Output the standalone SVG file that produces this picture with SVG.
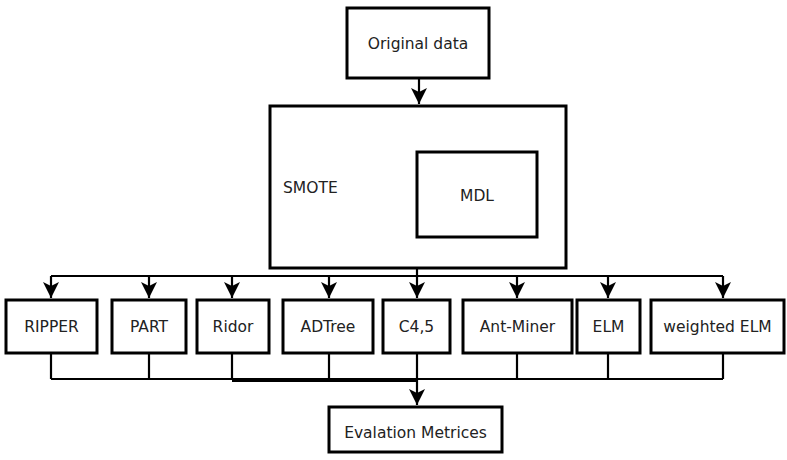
<svg xmlns="http://www.w3.org/2000/svg" width="787" height="460" viewBox="0 0 787 460">
  <style>
    .box { fill: #ffffff; stroke: #000000; stroke-width: 3; }
    .wire { fill: none; stroke: #000000; stroke-width: 2.2; }
    .thick { fill: none; stroke: #000000; stroke-width: 4; }
    .lbl { font-family: "DejaVu Sans", Verdana, sans-serif; font-size: 15.5px; fill: #222222; text-anchor: middle; }
  </style>
  <defs>
    <marker id="arrow" viewBox="0 0 16 16" refX="16" refY="8" markerWidth="16" markerHeight="16" markerUnits="userSpaceOnUse" orient="auto">
      <path d="M0,0 L4,8 L0,16 L16,8 Z" fill="#000000"/>
    </marker>
  </defs>
  <rect width="787" height="460" fill="#ffffff"/>

  <g id="connectors">
    <!-- input to SMOTE -->
    <line class="wire" x1="419" y1="78" x2="419" y2="104" marker-end="url(#arrow)"/>
    <!-- SMOTE to distribution bus -->
    <line class="wire" x1="417" y1="268" x2="417" y2="276"/>
    <line class="wire" x1="51" y1="276" x2="723" y2="276"/>
    <line class="wire" x1="51" y1="276" x2="51" y2="298" marker-end="url(#arrow)"/>
    <line class="wire" x1="149" y1="276" x2="149" y2="298" marker-end="url(#arrow)"/>
    <line class="wire" x1="232" y1="276" x2="232" y2="298" marker-end="url(#arrow)"/>
    <line class="wire" x1="329" y1="276" x2="329" y2="298" marker-end="url(#arrow)"/>
    <line class="wire" x1="417" y1="276" x2="417" y2="298" marker-end="url(#arrow)"/>
    <line class="wire" x1="517" y1="276" x2="517" y2="298" marker-end="url(#arrow)"/>
    <line class="wire" x1="608" y1="276" x2="608" y2="298" marker-end="url(#arrow)"/>
    <line class="wire" x1="723" y1="276" x2="723" y2="298" marker-end="url(#arrow)"/>
    <!-- classifiers to collection bus -->
    <line class="wire" x1="51" y1="353" x2="51" y2="379"/>
    <line class="wire" x1="149" y1="353" x2="149" y2="379"/>
    <line class="wire" x1="232" y1="353" x2="232" y2="379"/>
    <line class="wire" x1="329" y1="353" x2="329" y2="379"/>
    <line class="wire" x1="417" y1="353" x2="417" y2="379"/>
    <line class="wire" x1="517" y1="353" x2="517" y2="379"/>
    <line class="wire" x1="608" y1="353" x2="608" y2="379"/>
    <line class="wire" x1="723" y1="353" x2="723" y2="379"/>
    <line class="wire" x1="51" y1="379" x2="723" y2="379"/>
    <line class="thick" x1="232" y1="380" x2="417" y2="380"/>
    <!-- collection bus to evaluation -->
    <line class="wire" x1="417" y1="379" x2="417" y2="405" marker-end="url(#arrow)"/>
  </g>

  <g id="original-data">
    <rect class="box" x="347" y="8" width="142" height="70"/>
    <text class="lbl" x="418" y="49">Original data</text>
  </g>

  <g id="smote">
    <rect class="box" x="270" y="106" width="296" height="162"/>
    <text class="lbl" x="283" y="193" style="text-anchor: start">SMOTE</text>
  </g>

  <g id="mdl">
    <rect class="box" x="417" y="152" width="120" height="85"/>
    <text class="lbl" x="477" y="201">MDL</text>
  </g>

  <g id="ripper">
    <rect class="box" x="6" y="300" width="91" height="53"/>
    <text class="lbl" x="51.5" y="332">RIPPER</text>
  </g>

  <g id="part">
    <rect class="box" x="112" y="300" width="74" height="53"/>
    <text class="lbl" x="149" y="332">PART</text>
  </g>

  <g id="ridor">
    <rect class="box" x="197" y="300" width="72" height="53"/>
    <text class="lbl" x="233" y="332">Ridor</text>
  </g>

  <g id="adtree">
    <rect class="box" x="283" y="300" width="90" height="53"/>
    <text class="lbl" x="328" y="332">ADTree</text>
  </g>

  <g id="c45">
    <rect class="box" x="383" y="300" width="67" height="53"/>
    <text class="lbl" x="416.5" y="332">C4,5</text>
  </g>

  <g id="ant-miner">
    <rect class="box" x="463" y="300" width="109" height="53"/>
    <text class="lbl" x="517.5" y="332">Ant-Miner</text>
  </g>

  <g id="elm">
    <rect class="box" x="577" y="300" width="63" height="53"/>
    <text class="lbl" x="608.5" y="332">ELM</text>
  </g>

  <g id="weighted-elm">
    <rect class="box" x="651" y="300" width="133" height="53"/>
    <text class="lbl" x="717.5" y="332">weighted ELM</text>
  </g>

  <g id="evaluation">
    <rect class="box" x="329" y="407" width="173" height="45"/>
    <text class="lbl" x="415.5" y="438">Evalation Metrices</text>
  </g>
</svg>
